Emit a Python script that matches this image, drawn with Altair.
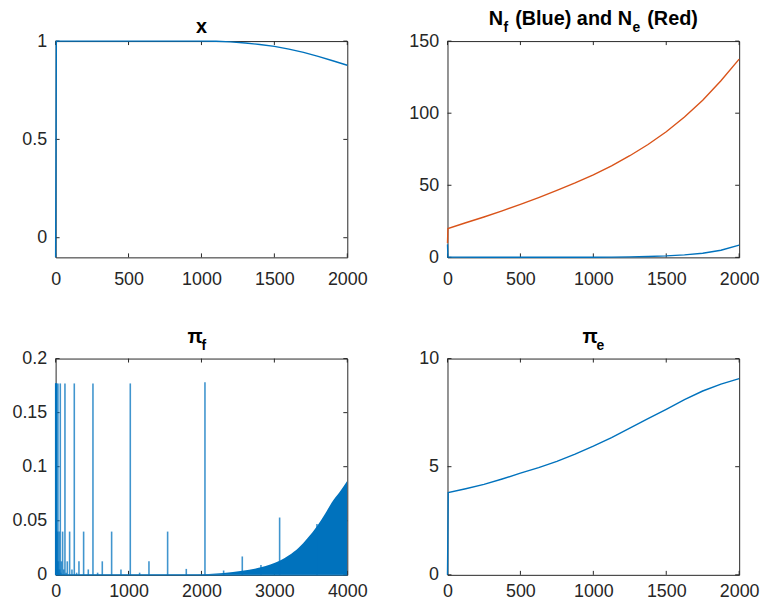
import altair as alt
import pandas as pd

# ---------------- data ----------------
# Panel 1: x
x_t = [0, 5, 1000, 1100, 1200, 1300, 1400, 1500, 1600, 1700, 1800, 1900, 2000]
x_v = [-0.1, 1.0, 1.0, 0.999, 0.996, 0.990, 0.983, 0.973, 0.959, 0.943, 0.922, 0.900, 0.877]

# Panel 2: N_f (blue) and N_e (red)
nf_t = [0, 3, 250, 500, 750, 1000, 1125, 1250, 1375, 1500, 1625, 1750, 1875, 2000]
nf_v = [9.0, 0.3, 0.1, 0.05, 0.05, 0.1, 0.2, 0.35, 0.6, 1.0, 1.7, 2.9, 4.95, 8.5]
ne_t = [0, 3, 125, 250, 375, 500, 625, 750, 875, 1000, 1125, 1250, 1375, 1500, 1625, 1750, 1875, 2000]
ne_v = [10.0, 20.0, 24.0, 28.0, 32.3, 36.8, 41.5, 46.4, 51.6, 57.2, 63.5, 70.5, 78.3, 87.1, 97.3, 109.0, 122.5, 137.5]

# Panel 3: pi_f  (isolated spikes + dense oscillating tail)
pf_spike_n = [1, 2, 4, 8, 16, 32, 64, 128, 256, 512, 1024, 2048,
              3, 6, 12, 24, 48, 96, 192, 384, 768, 1536, 3072,
              5, 10, 20, 40, 80, 160, 320, 640, 1280, 2560,
              7, 14, 28, 56, 112, 224, 448, 896, 1792, 3584,
              9, 18, 36, 72, 144, 288, 576, 1152, 2304, 2816]
pf_spike_v = [0.177, 0.177, 0.177, 0.177, 0.177, 0.177, 0.177, 0.177, 0.177, 0.177, 0.177, 0.178,
              0.040, 0.040, 0.040, 0.040, 0.040, 0.040, 0.040, 0.040, 0.040, 0.040, 0.053,
              0.0125, 0.0125, 0.0125, 0.0125, 0.0125, 0.0125, 0.0125, 0.0125, 0.0125, 0.017,
              0.005, 0.005, 0.005, 0.005, 0.005, 0.005, 0.005, 0.005, 0.0055, 0.047,
              0.002, 0.002, 0.002, 0.002, 0.002, 0.002, 0.002, 0.002, 0.004, 0.009]
pf_env_n = [1950, 2100, 2304, 2560, 2816, 3072, 3200, 3333, 3456, 3584, 3700, 3787, 3900, 4000]
pf_env_v = [0.0, 0.0008, 0.0018, 0.0037, 0.007, 0.013, 0.018, 0.025, 0.034, 0.045, 0.057, 0.067, 0.077, 0.087]
pf_base_n = [0, 4000]
pf_base_v = [0.0, 0.0]

# Panel 4: pi_e
pe_t = [0, 5, 125, 250, 375, 500, 625, 750, 875, 1000, 1125, 1250, 1375, 1500, 1625, 1750, 1875, 2000]
pe_v = [0.0, 3.8, 3.98, 4.18, 4.43, 4.70, 4.96, 5.25, 5.58, 5.95, 6.35, 6.78, 7.22, 7.65, 8.10, 8.50, 8.82, 9.07]

# tick values
xt_2000 = [0, 500, 1000, 1500, 2000]
xt_4000 = [0, 1000, 2000, 3000, 4000]
yt_x = [0, 0.5, 1]
yt_n = [0, 50, 100, 150]
yt_pf = [0, 0.05, 0.1, 0.15, 0.2]
yt_pe = [0, 5, 10]

# ---------------- style ----------------
W, H = 294, 218
FONT = "Liberation Sans"
AX = "#262626"
BLUE = "#0072BD"
RED = "#D95319"
TICK_FS = 18
TITLE_FS = 20
SUB_FS = 14
LW = 1.4
LABEL = "'' + datum.value"


def ax_x(vals, lp):
    return alt.Axis(values=vals, labelExpr=LABEL, title=None, grid=False, ticks=False, domain=False,
                    labelFont=FONT, labelFontSize=TICK_FS, labelColor=AX, labelPadding=lp,
                    labelFlush=False, labelOverlap=False)


def ax_y(vals):
    return alt.Axis(values=vals, labelExpr=LABEL, title=None, grid=False, ticks=False, domain=False,
                    labelFont=FONT, labelFontSize=TICK_FS, labelColor=AX, labelPadding=9,
                    labelFlush=False, labelOverlap=False)


def tick_layers(xvals, yvals, xs, ys, axx, axy):
    dx = pd.DataFrame({"x": xvals})
    dy = pd.DataFrame({"y": yvals})
    L = 4
    out = []
    X = alt.X("x:Q", scale=xs, axis=axx)
    Y = alt.Y("y:Q", scale=ys, axis=axy)
    out.append(alt.Chart(dx).mark_rule(color=AX, strokeWidth=1).encode(x=X, y=alt.value(H), y2=alt.value(H - L)))
    out.append(alt.Chart(dx).mark_rule(color=AX, strokeWidth=1).encode(x=X, y=alt.value(0), y2=alt.value(L)))
    out.append(alt.Chart(dy).mark_rule(color=AX, strokeWidth=1).encode(y=Y, x=alt.value(0), x2=alt.value(L)))
    out.append(alt.Chart(dy).mark_rule(color=AX, strokeWidth=1).encode(y=Y, x=alt.value(W), x2=alt.value(W - L)))
    return out


ONE = pd.DataFrame({"k": [0]})


def title_piece(text, x, y, size, align="left"):
    return alt.Chart(ONE).mark_text(text=text, font=FONT, fontSize=size, fontWeight="bold",
                                    color="#000000", align=align, baseline="alphabetic").encode(
        x=alt.value(x), y=alt.value(y))


def panel(layers, xvals, yvals, xdom, ydom, titles, lp):
    xs = alt.Scale(domain=xdom, nice=False, zero=False)
    ys = alt.Scale(domain=ydom, nice=False, zero=False)
    axx = ax_x(xvals, lp)
    axy = ax_y(yvals)
    ls = tick_layers(xvals, yvals, xs, ys, axx, axy)
    ls += [f(xs, ys, axx, axy) for f in layers]
    ls += titles
    return alt.layer(*ls).properties(width=W, height=H)


def line_layer(t, v, color):
    df = pd.DataFrame({"x": t, "y": v})
    def f(xs, ys, axx, axy):
        return alt.Chart(df).mark_line(color=color, strokeWidth=LW, clip=False).encode(
            x=alt.X("x:Q", scale=xs, axis=axx), y=alt.Y("y:Q", scale=ys, axis=axy))
    return f


def spike_layer(n, v):
    df = pd.DataFrame({"x": n, "y": v})
    def f(xs, ys, axx, axy):
        return alt.Chart(df).mark_rule(color=BLUE, strokeWidth=1.6, opacity=0.75).encode(
            x=alt.X("x:Q", scale=xs, axis=axx), y=alt.Y("y:Q", scale=ys, axis=axy), y2=alt.datum(0))
    return f


def area_layer(n, v):
    df = pd.DataFrame({"x": n, "y": v})
    def f(xs, ys, axx, axy):
        return alt.Chart(df).mark_area(color=BLUE, opacity=1, clip=True, interpolate="monotone").encode(
            x=alt.X("x:Q", scale=xs, axis=axx), y=alt.Y("y:Q", scale=ys, axis=axy))
    return f


# titles (pieces so that sub-scripts can be drawn); widths from Arial-bold metrics
S, s = TITLE_FS, SUB_FS
SP = 0.278 * S
GAP = 2
TB = -16   # baseline of main title text
SB = -9    # baseline of sub-scripts
t1 = [title_piece("x", W / 2, -8, S, align="center")]

w_N = 0.722 * S
w_f = 0.333 * s
w_blue = 4.889 * S
w_e = 0.556 * s
w_red = 2.555 * S
total = w_N + w_f + GAP + SP + w_blue + SP + w_N + w_e + GAP + SP + w_red
x0 = W / 2 - total / 2
xa = x0
t2 = [title_piece("N", xa, TB, S)]
xa += w_N
t2.append(title_piece("f", xa + 0.5, SB, s))
xa += w_f + GAP + SP
t2.append(title_piece("(Blue) and", xa, TB, S))
xa += w_blue + SP
t2.append(title_piece("N", xa, TB, S))
xa += w_N
t2.append(title_piece("e", xa + 0.5, SB, s))
xa += w_e + GAP + SP
t2.append(title_piece("(Red)", xa, TB, S))

w_pi = 0.6 * S
t3 = [title_piece("π", 133, TB, S),
      title_piece("f", 133 + w_pi + 2, SB, s)]
t4 = [title_piece("π", W / 2 - (w_pi + w_e + 2) / 2, TB, S),
      title_piece("e", W / 2 - (w_pi + w_e + 2) / 2 + w_pi + 2, SB, s)]

p1 = panel([line_layer(x_t, x_v, BLUE)], xt_2000, yt_x, [0, 2000], [-0.1, 1], t1, 13)
p2 = panel([line_layer(ne_t, ne_v, RED), line_layer(nf_t, nf_v, BLUE)], xt_2000, yt_n, [0, 2000], [0, 150], t2, 13)
p3 = panel([line_layer(pf_base_n, pf_base_v, BLUE), area_layer(pf_env_n, pf_env_v), spike_layer(pf_spike_n, pf_spike_v)],
           xt_4000, yt_pf, [0, 4000], [0, 0.2], t3, 8)
p4 = panel([line_layer(pe_t, pe_v, BLUE)], xt_2000, yt_pe, [0, 2000], [0, 10], t4, 8)

chart = alt.concat(p1, p2, p3, p4, columns=2, spacing={"row": 102, "column": 101}, bounds="flush").configure_view(
    stroke=AX, strokeWidth=1).properties(padding={"left": 3, "top": -2, "right": 0, "bottom": -4},
                                         background="white")

chart.save("out.html", embed_options={"renderer": "svg", "actions": False})
